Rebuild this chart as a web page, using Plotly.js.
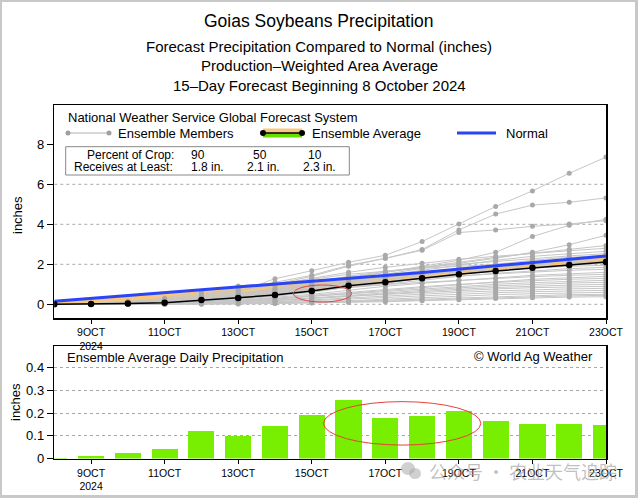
<!DOCTYPE html>
<html><head><meta charset="utf-8">
<script src="https://cdn.plot.ly/plotly-3.0.1.min.js"></script>
<style>
body{margin:0;padding:0;background:#fff}
#wrap{position:relative;width:638px;height:498px}
#chart{width:638px;height:498px}
#frame{position:absolute;left:0;top:0;width:638px;height:498px;box-sizing:border-box;border-style:solid;border-color:#c8c8c8;border-width:2px 3px 3px 2px;pointer-events:none}
</style>
</head><body><div id="wrap"><div id="chart"></div><div id="frame"></div></div>
<script>
// ---------------- data ----------------
const dates = ['2024-10-08','2024-10-09','2024-10-10','2024-10-11','2024-10-12','2024-10-13','2024-10-14','2024-10-15',
               '2024-10-16','2024-10-17','2024-10-18','2024-10-19','2024-10-20','2024-10-21','2024-10-22','2024-10-23'];
const tickDates = ['2024-10-09','2024-10-11','2024-10-13','2024-10-15','2024-10-17','2024-10-19','2024-10-21','2024-10-23'];
const tickLabels = ['9OCT<br>2024','11OCT','13OCT','15OCT','17OCT','19OCT','21OCT','23OCT'];

// cumulative ensemble average (inches)
const ensembleAverage = [0.005, 0.015, 0.035, 0.08, 0.21, 0.31, 0.46, 0.66, 0.93, 1.10, 1.30, 1.50, 1.66, 1.83, 1.97, 2.12];
// cumulative normal (inches)
const normal = [0.15, 0.29, 0.43, 0.57, 0.71, 0.85, 0.99, 1.14, 1.29, 1.44, 1.59, 1.75, 1.91, 2.08, 2.25, 2.42];
// ensemble average daily precipitation (inches)
const dailyPrecip = [0.004, 0.012, 0.025, 0.040, 0.123, 0.098, 0.144, 0.193, 0.259, 0.176, 0.186, 0.207, 0.163, 0.150, 0.150, 0.147];

// cumulative ensemble members (inches)
const members = [
  [0, 0.02, 0.05, 0.12, 0.35, 0.62, 1.28, 1.68, 2.10, 2.45, 3.14, 4.02, 4.89, 5.67, 6.55, 7.36],
  [0, 0.03, 0.08, 0.20, 0.40, 0.70, 1.00, 1.40, 1.90, 2.30, 2.74, 3.72, 4.51, 4.96, 5.10, 5.32],
  [0, 0.02, 0.15, 0.25, 0.50, 0.80, 1.10, 1.45, 1.95, 2.30, 2.70, 3.59, 3.72, 3.90, 4.02, 4.18],
  [0, 0.01, 0.05, 0.15, 0.30, 0.50, 0.75, 1.00, 1.30, 1.60, 1.90, 2.20, 2.60, 3.39, 3.95, 4.25],
  [0, 0.02, 0.06, 0.15, 0.30, 0.50, 0.70, 0.95, 1.20, 1.50, 1.80, 2.05, 2.30, 2.60, 2.98, 3.45],
  [0, 0.01, 0.04, 0.10, 0.25, 0.45, 0.70, 1.00, 1.35, 1.60, 1.85, 2.10, 2.35, 2.55, 2.75, 2.94],
  [0, 0.03, 0.10, 0.20, 0.45, 0.70, 0.95, 1.30, 1.60, 1.85, 2.05, 2.25, 2.40, 2.55, 2.68, 2.80],
  [0, 0.00, 0.02, 0.08, 0.20, 0.35, 0.60, 0.85, 1.20, 1.45, 1.70, 1.95, 2.20, 2.40, 2.52, 2.65],
  [0, 0.02, 0.05, 0.12, 0.30, 0.55, 0.80, 1.10, 1.40, 1.65, 1.85, 2.00, 2.15, 2.30, 2.42, 2.53],
  [0, 0.01, 0.03, 0.10, 0.20, 0.40, 0.55, 0.80, 1.05, 1.30, 1.55, 1.80, 2.00, 2.20, 2.35, 2.45],
  [0, 0.00, 0.02, 0.05, 0.15, 0.30, 0.50, 0.75, 1.00, 1.20, 1.45, 1.70, 1.90, 2.10, 2.25, 2.35],
  [0, 0.02, 0.12, 0.30, 0.62, 0.92, 1.05, 1.25, 1.50, 1.65, 1.80, 1.90, 2.00, 2.10, 2.18, 2.25],
  [0, 0.01, 0.04, 0.10, 0.22, 0.40, 0.60, 0.85, 1.10, 1.30, 1.50, 1.70, 1.85, 1.98, 2.08, 2.15],
  [0, 0.00, 0.01, 0.04, 0.12, 0.25, 0.40, 0.60, 0.85, 1.05, 1.30, 1.50, 1.70, 1.85, 1.95, 2.05],
  [0, 0.02, 0.05, 0.12, 0.28, 0.45, 0.65, 0.90, 1.15, 1.35, 1.50, 1.62, 1.72, 1.82, 1.90, 1.95],
  [0, 0.01, 0.02, 0.06, 0.15, 0.30, 0.45, 0.65, 0.85, 1.00, 1.20, 1.40, 1.55, 1.68, 1.78, 1.85],
  [0, 0.00, 0.03, 0.08, 0.20, 0.35, 0.55, 0.80, 1.00, 1.15, 1.30, 1.42, 1.52, 1.62, 1.70, 1.75],
  [0, 0.01, 0.02, 0.05, 0.10, 0.20, 0.35, 0.50, 0.70, 0.90, 1.05, 1.20, 1.32, 1.45, 1.53, 1.60],
  [0, 0.02, 0.04, 0.10, 0.25, 0.40, 0.55, 0.70, 0.85, 0.98, 1.10, 1.20, 1.30, 1.38, 1.45, 1.50],
  [0, 0.00, 0.01, 0.03, 0.08, 0.15, 0.25, 0.40, 0.55, 0.70, 0.85, 1.00, 1.12, 1.25, 1.33, 1.40],
  [0, 0.01, 0.03, 0.06, 0.12, 0.20, 0.30, 0.45, 0.60, 0.75, 0.88, 1.00, 1.10, 1.18, 1.25, 1.30],
  [0, 0.00, 0.02, 0.05, 0.10, 0.18, 0.28, 0.40, 0.52, 0.65, 0.78, 0.90, 1.00, 1.08, 1.15, 1.20],
  [0, 0.01, 0.02, 0.04, 0.08, 0.14, 0.22, 0.32, 0.45, 0.58, 0.70, 0.82, 0.92, 1.00, 1.06, 1.10],
  [0, 0.00, 0.01, 0.03, 0.06, 0.10, 0.18, 0.28, 0.40, 0.52, 0.64, 0.75, 0.84, 0.91, 0.96, 1.00],
  [0, 0.01, 0.02, 0.04, 0.07, 0.12, 0.20, 0.30, 0.40, 0.50, 0.60, 0.70, 0.77, 0.83, 0.87, 0.90],
  [0, 0.00, 0.01, 0.02, 0.05, 0.08, 0.14, 0.22, 0.32, 0.42, 0.52, 0.60, 0.67, 0.73, 0.77, 0.80],
  [0, 0.00, 0.00, 0.02, 0.04, 0.07, 0.12, 0.18, 0.26, 0.35, 0.44, 0.52, 0.58, 0.63, 0.67, 0.70],
  [0, 0.00, 0.01, 0.02, 0.03, 0.05, 0.08, 0.12, 0.18, 0.26, 0.34, 0.42, 0.48, 0.53, 0.57, 0.60],
  [0, 0.00, 0.00, 0.01, 0.02, 0.04, 0.06, 0.10, 0.15, 0.21, 0.27, 0.33, 0.39, 0.44, 0.48, 0.50],
  [0, 0.00, 0.00, 0.01, 0.02, 0.03, 0.05, 0.08, 0.12, 0.16, 0.21, 0.27, 0.33, 0.38, 0.42, 0.45],
  [0, 0.00, 0.00, 0.00, 0.01, 0.02, 0.04, 0.06, 0.09, 0.13, 0.18, 0.23, 0.29, 0.33, 0.36, 0.38]
];

const pctCrop = ['90', '50', '10'];
const receivesAtLeast = ['1.8 in.', '2.1 in.', '2.3 in.'];
const topGridVals = [0, 2, 4, 6];

// ---------------- helpers ----------------
const W = 638, H = 498;
const px = v => v / W;
const py = v => 1 - v / H;
const FONT = 'Liberation Sans, Arial, sans-serif';

const traces = [];
// orange band between normal and average
traces.push({x: dates, y: normal, mode: 'lines', line: {width: 0}, hoverinfo: 'skip', xaxis: 'x', yaxis: 'y'});
traces.push({x: dates, y: ensembleAverage, mode: 'lines', line: {width: 0}, fill: 'tonexty', fillcolor: '#f6c77d', hoverinfo: 'skip', xaxis: 'x', yaxis: 'y'});
// members
members.forEach(m => traces.push({
  x: dates, y: m, mode: 'lines+markers', xaxis: 'x', yaxis: 'y', hoverinfo: 'skip',
  line: {color: '#c6c6c6', width: 1}, marker: {color: '#a9a9a9', size: 5}
}));
// normal
traces.push({x: dates, y: normal, mode: 'lines', line: {color: '#2a44f8', width: 3}, xaxis: 'x', yaxis: 'y', hoverinfo: 'skip'});
// ensemble average
traces.push({x: dates, y: ensembleAverage, mode: 'lines+markers', line: {color: '#000', width: 1.5}, marker: {color: '#000', size: 6.5}, xaxis: 'x', yaxis: 'y', hoverinfo: 'skip'});
// daily bars
traces.push({type: 'bar', x: dates, y: dailyPrecip, width: 0.71 * 86400000, marker: {color: '#78ee00', line: {width: 0}}, xaxis: 'x2', yaxis: 'y2', hoverinfo: 'skip'});

const shapes = [];
topGridVals.forEach(v => shapes.push({type: 'line', xref: 'x', yref: 'y', x0: dates[0], x1: dates[dates.length - 1], y0: v, y1: v,
  line: {color: '#a8a8a8', width: 1, dash: 'dot'}, layer: 'below'}));

// legend symbols
const ly = 133;
shapes.push({type: 'line', xref: 'paper', yref: 'paper', x0: px(68), x1: px(109), y0: py(ly), y1: py(ly), line: {color: '#b0b0b0', width: 1}});
[68, 109].forEach(c => shapes.push({type: 'circle', xref: 'paper', yref: 'paper', x0: px(c - 2.5), x1: px(c + 2.5), y0: py(ly + 2.5), y1: py(ly - 2.5), fillcolor: '#a0a0a0', line: {width: 0}}));
shapes.push({type: 'rect', xref: 'paper', yref: 'paper', x0: px(263), x1: px(302), y0: py(133), y1: py(128.5), fillcolor: '#f6c77d', line: {width: 0}});
shapes.push({type: 'rect', xref: 'paper', yref: 'paper', x0: px(263), x1: px(302), y0: py(137.5), y1: py(133), fillcolor: '#66dd00', line: {width: 0}});
shapes.push({type: 'line', xref: 'paper', yref: 'paper', x0: px(263), x1: px(302), y0: py(ly), y1: py(ly), line: {color: '#000', width: 1.5}});
[263, 302].forEach(c => shapes.push({type: 'circle', xref: 'paper', yref: 'paper', x0: px(c - 3), x1: px(c + 3), y0: py(ly + 3), y1: py(ly - 3), fillcolor: '#000', line: {width: 0}}));
shapes.push({type: 'line', xref: 'paper', yref: 'paper', x0: px(457), x1: px(496), y0: py(ly), y1: py(ly), line: {color: '#2a44f8', width: 3}});
// stats box
shapes.push({type: 'rect', xref: 'paper', yref: 'paper', x0: px(65.7), x1: px(349.3), y0: py(175), y1: py(146.7), line: {color: '#888', width: 1}, fillcolor: 'rgba(255,255,255,0)'});

// red ellipses
shapes.push({type: 'circle', xref: 'x', yref: 'y', x0: '2024-10-14 12:00', x1: '2024-10-16 02:00', y0: 0.115, y1: 0.965, line: {color: '#e8403a', width: 1}});
shapes.push({type: 'circle', xref: 'x2', yref: 'y2', x0: '2024-10-15 07:40', x1: '2024-10-19 14:20', y0: 0.059, y1: 0.25, line: {color: '#e8403a', width: 1}});

// watermark icon
shapes.push({type: 'circle', xref: 'paper', yref: 'paper', x0: px(401), x1: px(415), y0: py(475), y1: py(462), fillcolor: 'rgba(170,170,170,0.55)', line: {width: 0}});
shapes.push({type: 'circle', xref: 'paper', yref: 'paper', x0: px(409), x1: px(421), y0: py(479), y1: py(468), fillcolor: 'rgba(170,170,170,0.55)', line: {width: 0}});

function ann(text, x, y, size, anchor, extra) {
  return Object.assign({text: text, xref: 'paper', yref: 'paper', x: px(x), y: py(y), xanchor: anchor || 'center', yanchor: 'middle',
    showarrow: false, font: {family: FONT, size: size, color: '#000'}}, extra || {});
}
const annotations = [
  ann('Goias Soybeans Precipitation', 319, 21.5, 17.5),
  ann('Forecast Precipitation Compared to Normal (inches)', 319, 46, 15),
  ann('Production–Weighted Area Average', 319, 66, 15),
  ann('15–Day Forecast Beginning 8 October 2024', 319, 85, 15),
  ann('National Weather Service Global Forecast System', 66, 117, 13, 'left'),
  ann('Ensemble Members', 116, 133, 13, 'left'),
  ann('Ensemble Average', 310, 133, 13, 'left'),
  ann('Normal', 504, 133, 13, 'left'),
  ann('Percent of Crop:', 130, 155, 12),
  ann('Receives at Least:', 124, 167, 12),
  ann(pctCrop[0], 198, 155, 12), ann(pctCrop[1], 260, 155, 12), ann(pctCrop[2], 315, 155, 12),
  ann(receivesAtLeast[0], 207, 167, 12), ann(receivesAtLeast[1], 263, 167, 12), ann(receivesAtLeast[2], 320, 167, 12),
  ann('inches', 17, 215, 13, 'center', {textangle: -90}),
  ann('inches', 15, 402, 13, 'center', {textangle: -90}),
  ann('Ensemble Average Daily Precipitation', 65, 357, 13, 'left'),
  ann('© World Ag Weather', 595, 356, 13, 'right'),
  ann('公众号 · 农业天气追踪', 523, 471, 18, 'center', {font: {family: 'Noto Sans CJK SC, sans-serif', size: 18, color: 'rgba(150,150,150,0.6)'}})
];

const axisCommon = {showline: true, mirror: true, linecolor: '#000', linewidth: 1.5, zeroline: false,
  ticks: 'outside', tickcolor: '#000', tickfont: {family: FONT, size: 13, color: '#000'}};
const xCommon = Object.assign({}, axisCommon, {type: 'date', range: ['2024-10-08', '2024-10-23'], domain: [px(54.3), px(606)],
  tickmode: 'array', tickvals: tickDates, ticktext: tickLabels, ticklen: 4, showgrid: false, tickfont: {family: FONT, size: 10.5, color: '#000'}});

const layout = {
  width: W, height: H, margin: {l: 0, r: 0, t: 0, b: 0}, showlegend: false,
  paper_bgcolor: '#fff', plot_bgcolor: 'rgba(0,0,0,0)', font: {family: FONT, color: '#000'},
  xaxis: Object.assign({}, xCommon, {anchor: 'y'}),
  yaxis: Object.assign({}, axisCommon, {domain: [py(318), py(105)], range: [-0.685, 9.965], tickmode: 'array', tickvals: [0, 2, 4, 6, 8], ticklen: 6, showgrid: false, anchor: 'x'}),
  xaxis2: Object.assign({}, xCommon, {anchor: 'y2'}),
  yaxis2: Object.assign({}, axisCommon, {domain: [py(458.5), py(346)], range: [0, 0.4945], tickmode: 'array', tickvals: [0, 0.1, 0.2, 0.3, 0.4], ticktext: ['0', '0.1', '0.2', '0.3', '0.4'],
    ticklen: 6, showgrid: true, gridcolor: '#a8a8a8', griddash: 'dot', gridwidth: 1, anchor: 'x2'}),
  shapes: shapes, annotations: annotations, bargap: 0
};

Plotly.newPlot('chart', traces, layout, {staticPlot: true, displayModeBar: false});
</script>
</body></html>
